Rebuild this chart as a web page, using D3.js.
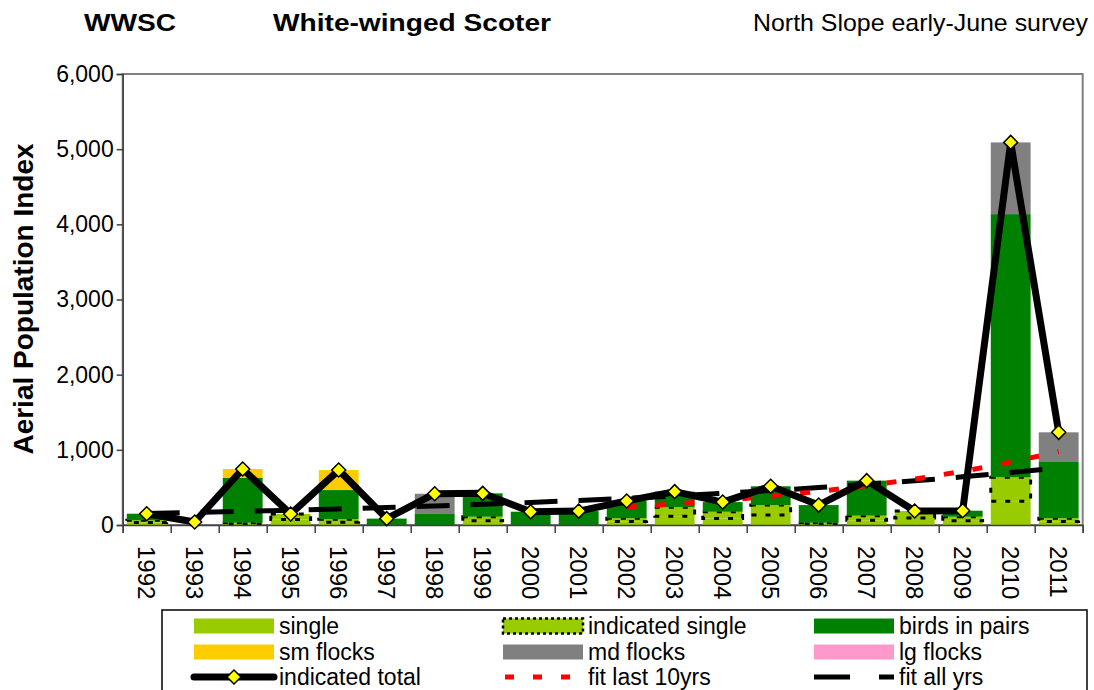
<!DOCTYPE html>
<html>
<head>
<meta charset="utf-8">
<script src="https://cdn.jsdelivr.net/npm/d3@7"></script>
<style>
  body { margin: 0; background: #fff; }
  svg { display: block; font-family: "Liberation Sans", Arial, sans-serif; }
</style>
</head>
<body>
<svg id="chart" width="1094" height="690"></svg>
<script>
// values
const years = [1992,1993,1994,1995,1996,1997,1998,1999,2000,2001,2002,2003,2004,2005,2006,2007,2008,2009,2010,2011];
const single    = [32, 0, 15, 73, 38, 0, 0, 55, 0, 0, 45, 118, 88, 133, 15, 62, 93, 55, 317, 45];
const indSingle = [32, 0, 15, 73, 38, 0, 0, 55, 0, 0, 45, 118, 88, 133, 15, 62, 93, 55, 317, 45];
const pairs     = [86, 0, 600, 0, 389, 85, 146, 311, 177, 185, 230, 208, 129, 249, 235, 466, 0, 80, 3502, 748];
const smFlocks  = [0, 0, 115, 0, 266, 0, 0, 0, 0, 0, 0, 0, 0, 0, 0, 0, 0, 0, 0, 0];
const mdFlocks  = [0, 0, 0, 0, 0, 0, 270, 0, 0, 0, 0, 0, 0, 0, 0, 0, 0, 0, 954, 395];
const lgFlocks  = [0, 0, 0, 0, 0, 0, 0, 0, 0, 0, 0, 0, 0, 0, 0, 0, 0, 0, 0, 0];
const total     = [150, 40, 745, 146, 731, 85, 416, 421, 177, 185, 320, 444, 305, 515, 265, 590, 186, 190, 5090, 1233];
const fitAll    = [154, 168, 181, 197, 214, 233, 254, 276, 300, 327, 355, 387, 421, 458, 498, 542, 589, 641, 698, 759];
const fitYears  = [2002,2003,2004,2005,2006,2007,2008,2009,2010,2011];
const fitLast   = [240, 281, 328, 383, 448, 524, 612, 716, 837, 978];
const yTicks    = [0, 1000, 2000, 3000, 4000, 5000, 6000];

const series = [
  {key: "single", vals: single, color: "#99CC00"},
  {key: "indicated single", vals: indSingle, color: "#99CC00", dotted: true},
  {key: "birds in pairs", vals: pairs, color: "#008000"},
  {key: "sm flocks", vals: smFlocks, color: "#FFCC00"},
  {key: "md flocks", vals: mdFlocks, color: "#808080"},
  {key: "lg flocks", vals: lgFlocks, color: "#FF99CC"}
];

const pLeft = 122.7, pRight = 1082.7, pTop = 74, pBottom = 525;
const svg = d3.select("#chart");
const font = "Liberation Sans, Arial, sans-serif";

const x = d3.scaleBand(years, [pLeft, pRight]).paddingInner(0.17).paddingOuter(0.085);
const xl = d3.scaleLinear([0, years.length], [pLeft, pRight]);
const y = d3.scaleLinear([0, 6000], [pBottom, pTop]);

// titles
svg.append("text").attr("x", 84).attr("y", 31).attr("font-size", 24).attr("font-weight", "bold")
  .attr("textLength", 92).attr("lengthAdjust", "spacingAndGlyphs").text("WWSC");
svg.append("text").attr("x", 273).attr("y", 31).attr("font-size", 24).attr("font-weight", "bold")
  .attr("textLength", 278).attr("lengthAdjust", "spacingAndGlyphs").text("White-winged Scoter");
svg.append("text").attr("x", 753).attr("y", 31).attr("font-size", 24)
  .attr("textLength", 335).attr("lengthAdjust", "spacingAndGlyphs").text("North Slope early-June survey");

// plot frame
svg.append("rect").attr("x", pLeft).attr("y", pTop).attr("width", pRight - pLeft).attr("height", pBottom - pTop)
  .attr("fill", "none").attr("stroke", "#808080").attr("stroke-width", 2);

// stacked bars
const stack = years.map(() => 0);
series.forEach(s => {
  const g = svg.append("g");
  years.forEach((yr, i) => {
    const v = s.vals[i];
    if (v <= 0) return;
    const y0 = stack[i], y1 = stack[i] + v;
    stack[i] = y1;
    g.append("rect")
      .attr("x", x(yr)).attr("width", x.bandwidth())
      .attr("y", y(y1)).attr("height", y(y0) - y(y1))
      .attr("fill", s.color)
      .attr("stroke", s.dotted ? "#000" : "none")
      .attr("stroke-width", s.dotted ? 3 : 0)
      .attr("stroke-dasharray", s.dotted ? "5,9" : null);
  });
});

// axes
const yAxis = svg.append("g").attr("transform", `translate(${pLeft},0)`)
  .call(d3.axisLeft(y).tickValues(yTicks).tickFormat(d3.format(",")).tickSize(6).tickPadding(3));
yAxis.selectAll("text").attr("font-size", 23).attr("font-family", font).attr("fill", "#000");
yAxis.selectAll("line, path").attr("stroke", "#404040").attr("stroke-width", 1.5);

const xAxis = svg.append("g").attr("transform", `translate(0,${pBottom})`)
  .call(d3.axisBottom(xl).tickValues(d3.range(years.length + 1)).tickFormat("").tickSize(8));
xAxis.selectAll("line, path").attr("stroke", "#404040").attr("stroke-width", 1.5);

svg.append("g").selectAll("text").data(years).enter().append("text")
  .attr("transform", d => `translate(${x(d) + x.bandwidth() / 2},${pBottom + 21}) rotate(90)`)
  .attr("dy", "0.35em").attr("font-size", 24).text(d => d);

// y label
svg.append("text").attr("transform", `translate(33,299) rotate(-90)`)
  .attr("text-anchor", "middle").attr("font-size", 28).attr("font-weight", "bold")
  .text("Aerial Population Index");

// fit lines
const cx = d => x(d) + x.bandwidth() / 2;
const fitLine = d3.line().x(d => cx(d[0])).y(d => y(d[1])).curve(d3.curveMonotoneX);
svg.append("path").datum(years.map((d, i) => [d, fitAll[i]]))
  .attr("d", fitLine).attr("fill", "none").attr("stroke", "#000")
  .attr("stroke-width", 5).attr("stroke-dasharray", "33,21");
svg.append("path").datum(fitYears.map((d, i) => [d, fitLast[i]]))
  .attr("d", fitLine).attr("fill", "none").attr("stroke", "#FF0000")
  .attr("stroke-width", 5).attr("stroke-dasharray", "10,19");

// indicated total
const diamond = r => `M0,${-r}L${r},0L0,${r}L${-r},0Z`;
svg.append("path").datum(years.map((d, i) => [d, total[i]]))
  .attr("d", d3.line().x(d => cx(d[0])).y(d => y(d[1])))
  .attr("fill", "none").attr("stroke", "#000").attr("stroke-width", 7).attr("stroke-linejoin", "round");
svg.append("g").selectAll("path").data(years).enter().append("path")
  .attr("transform", (d, i) => `translate(${cx(d)},${y(total[i])})`)
  .attr("d", diamond(7)).attr("fill", "#FFFF00").attr("stroke", "#000").attr("stroke-width", 1.5);

// legend
const lg = svg.append("g");
lg.append("rect").attr("x", 162).attr("y", 610).attr("width", 925).attr("height", 100)
  .attr("fill", "#fff").attr("stroke", "#000").attr("stroke-width", 1.5);
const legendItems = [
  {label: "single", kind: "box", color: "#99CC00"},
  {label: "indicated single", kind: "dotbox", color: "#99CC00"},
  {label: "birds in pairs", kind: "box", color: "#008000"},
  {label: "sm flocks", kind: "box", color: "#FFCC00"},
  {label: "md flocks", kind: "box", color: "#808080"},
  {label: "lg flocks", kind: "box", color: "#FF99CC"},
  {label: "indicated total", kind: "total"},
  {label: "fit last 10yrs", kind: "red"},
  {label: "fit all yrs", kind: "black"}
];
const colX = [194, 503, 814], rowY = [626, 652, 677];
legendItems.forEach((it, i) => {
  const sx = colX[i % 3], sy = rowY[Math.floor(i / 3)];
  if (it.kind === "box" || it.kind === "dotbox") {
    lg.append("rect").attr("x", sx).attr("y", sy - 7.5).attr("width", 80).attr("height", 15)
      .attr("fill", it.color)
      .attr("stroke", it.kind === "dotbox" ? "#000" : "none")
      .attr("stroke-width", 2.5).attr("stroke-dasharray", it.kind === "dotbox" ? "3,3" : null);
  } else if (it.kind === "total") {
    lg.append("line").attr("x1", sx).attr("x2", sx + 80).attr("y1", sy).attr("y2", sy)
      .attr("stroke", "#000").attr("stroke-width", 7).attr("stroke-linecap", "round");
    lg.append("path").attr("transform", `translate(${sx + 40},${sy})`).attr("d", diamond(7))
      .attr("fill", "#FFFF00").attr("stroke", "#000").attr("stroke-width", 1.5);
  } else if (it.kind === "red") {
    lg.append("line").attr("x1", sx + 2).attr("x2", sx + 80).attr("y1", sy).attr("y2", sy)
      .attr("stroke", "#FF0000").attr("stroke-width", 5).attr("stroke-dasharray", "9,19");
  } else {
    lg.append("line").attr("x1", sx).attr("x2", sx + 80).attr("y1", sy).attr("y2", sy)
      .attr("stroke", "#000").attr("stroke-width", 5).attr("stroke-dasharray", "36,29");
  }
  lg.append("text").attr("x", sx + 85).attr("y", sy).attr("dy", "0.35em")
    .attr("font-size", 23).text(it.label);
});
</script>
</body>
</html>
